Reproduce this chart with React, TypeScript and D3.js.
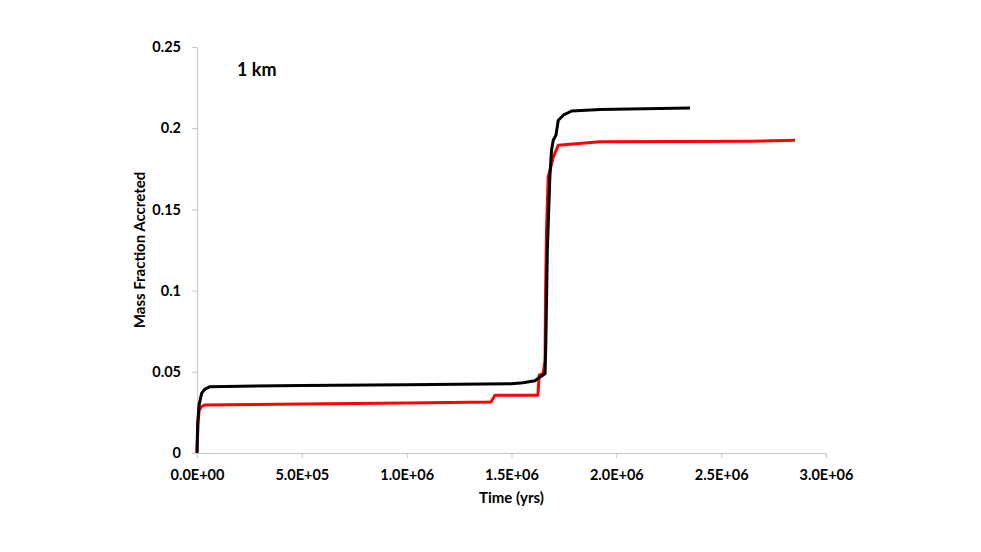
import React, { useRef, useEffect } from 'react';
import * as d3 from 'd3';

// Time (yrs) and mass fraction accreted
const blackTime = [0, 3000, 9500, 22400, 38000, 62000, 500000, 1000000, 1500000, 1555000, 1612000, 1636000, 1660000, 1664000, 1671000, 1683000, 1691000, 1699000, 1712000, 1723000, 1747000, 1787000, 1922000, 2351000];
const blackFrac = [0, 0.018, 0.0295, 0.0369, 0.0394, 0.0408, 0.0416, 0.042, 0.0426, 0.0432, 0.0445, 0.0468, 0.0488, 0.0695, 0.125, 0.17, 0.1865, 0.1926, 0.1957, 0.2049, 0.208, 0.2106, 0.2115, 0.2125];

const redTime = [0, 2000, 6000, 10000, 20000, 35000, 500000, 1000000, 1402000, 1412000, 1421000, 1626000, 1632000, 1651000, 1660000, 1662000, 1667000, 1675000, 1699000, 1723000, 1922000, 2637000, 2852000];
const redFrac = [0, 0.008, 0.02, 0.026, 0.0285, 0.0295, 0.0302, 0.0308, 0.0314, 0.0335, 0.0355, 0.0355, 0.048, 0.049, 0.057, 0.094, 0.137, 0.17, 0.182, 0.1895, 0.1916, 0.192, 0.1926];

const xTicks = [0, 500000, 1000000, 1500000, 2000000, 2500000, 3000000];
const xTickLabels = ['0.0E+00', '5.0E+05', '1.0E+06', '1.5E+06', '2.0E+06', '2.5E+06', '3.0E+06'];
const yTicks = [0, 0.05, 0.1, 0.15, 0.2, 0.25];
const yTickLabels = ['0', '0.05', '0.1', '0.15', '0.2', '0.25'];

const Chart = ({ width = 981, height = 552 }) => {
  const svgRef = useRef<SVGSVGElement>(null);

  useEffect(() => {
    d3.select(svgRef.current).selectAll('*').remove();

    const margin = { top: 47, right: 155, bottom: 99, left: 197 };
    const innerWidth = width - margin.left - margin.right;
    const innerHeight = height - margin.top - margin.bottom;
    const font = 'Lato, "Open Sans", sans-serif';
    const axisColor = '#c6c6c6';

    const svg = d3.select(svgRef.current).attr('width', width).attr('height', height);
    const chart = svg.append('g').attr('transform', `translate(${margin.left},${margin.top})`);

    const xScale = d3.scaleLinear().domain([0, 3000000]).range([0, innerWidth]);
    const yScale = d3.scaleLinear().domain([0, 0.25]).range([innerHeight, 0]);

    // X axis
    const xAxis = chart
      .append('g')
      .attr('transform', `translate(0,${innerHeight})`)
      .call(
        d3.axisBottom(xScale)
          .tickValues(xTicks)
          .tickSize(5)
          .tickPadding(12)
          .tickFormat((d, i) => xTickLabels[i])
      );
    xAxis.select('.domain').attr('stroke', axisColor);
    xAxis.selectAll('.tick line').attr('stroke', axisColor);
    xAxis.selectAll('.tick text')
      .attr('font-family', font)
      .attr('font-size', '14.5px')
      .attr('font-weight', 'bold')
      .attr('fill', '#000');

    // Y axis
    const yAxis = chart
      .append('g')
      .call(
        d3.axisLeft(yScale)
          .tickValues(yTicks)
          .tickSize(5)
          .tickPadding(11)
          .tickFormat((d, i) => yTickLabels[i])
      );
    yAxis.select('.domain').attr('stroke', axisColor);
    yAxis.selectAll('.tick line').attr('stroke', axisColor);
    yAxis.selectAll('.tick text')
      .attr('font-family', font)
      .attr('font-size', '14.5px')
      .attr('font-weight', 'bold')
      .attr('fill', '#000');

    const line = d3
      .line<[number, number]>()
      .x(d => xScale(d[0]))
      .y(d => yScale(d[1]));

    const series = [
      { color: '#ff0000', values: redTime.map((t, i) => [t, redFrac[i]] as [number, number]) },
      { color: '#000000', values: blackTime.map((t, i) => [t, blackFrac[i]] as [number, number]) },
    ];

    chart
      .selectAll('.line')
      .data(series)
      .enter()
      .append('path')
      .attr('class', 'line')
      .attr('d', d => line(d.values))
      .attr('fill', 'none')
      .attr('stroke', d => d.color)
      .attr('stroke-width', 3)
      .attr('stroke-linejoin', 'round');

    // Panel label
    svg
      .append('text')
      .attr('x', 237)
      .attr('y', 76)
      .attr('font-family', font)
      .attr('font-size', '18px')
      .attr('font-weight', 'bold')
      .text('1 km');

    // X axis label
    svg
      .append('text')
      .attr('x', margin.left + innerWidth / 2)
      .attr('y', 503)
      .attr('text-anchor', 'middle')
      .attr('font-family', font)
      .attr('font-size', '15px')
      .attr('font-weight', 'bold')
      .text('Time (yrs)');

    // Y axis label
    svg
      .append('text')
      .attr('transform', 'rotate(-90)')
      .attr('x', -(margin.top + innerHeight / 2))
      .attr('y', 145)
      .attr('text-anchor', 'middle')
      .attr('font-family', font)
      .attr('font-size', '15px')
      .attr('font-weight', 'bold')
      .text('Mass Fraction Accreted');
  }, [width, height]);

  return <svg ref={svgRef} style={{ display: 'block' }}></svg>;
};

export default function App() {
  return (
    <div style={{ margin: -8 }}>
      <Chart />
    </div>
  );
}
